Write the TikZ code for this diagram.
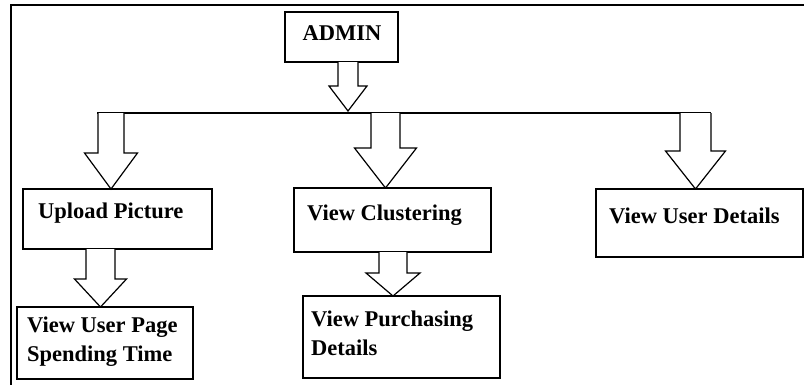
\documentclass[tikz,border=0pt]{standalone}
\usepackage{fontspec}
\setmainfont{Liberation Serif}
\usetikzlibrary{calc}
\newcommand{\blockarr}[5]{%
  \draw[arr] let \p1=(#1), \p2=(#2) in
    (\x1-#3pt,\y1) -- (\x1-#3pt,\y2+#5pt) -- (\x1-#4pt,\y2+#5pt) -- (\x1,\y2)
    -- (\x1+#4pt,\y2+#5pt) -- (\x1+#3pt,\y2+#5pt) -- (\x1+#3pt,\y1);}
\begin{document}
\begin{tikzpicture}[x=1pt,y=-1pt,
  box/.style={draw, line width=1.3pt, inner sep=0pt, outer sep=0pt, anchor=north west, fill=white},
  txt/.style={font=\fontsize{22.5}{29}\selectfont\bfseries, inner sep=0pt, anchor=west, align=left},
  arr/.style={draw, line width=1.2pt, fill=white, line join=miter},
  frame/.style={line width=2pt}]
\path[use as bounding box, clip] (0,0) rectangle (804,384);
\fill[white] (0,0) rectangle (804,384);
% outer frame (cut off at right and bottom)
\coordinate (fTR) at (830,5);
\coordinate (fTL) at (11,5);
\coordinate (fBL) at (11,400);
\draw[frame] (fTR) -- (fTL) -- (fBL);
% boxes
\node[box, minimum width=113pt, minimum height=50pt] (admin) at (285,12) {};
\node[box, minimum width=189pt, minimum height=60pt] (upload) at (23,189) {};
\node[box, minimum width=197pt, minimum height=64pt] (cluster) at (294,188) {};
\node[box, minimum width=207pt, minimum height=68pt] (userdet) at (596,189) {};
\node[box, minimum width=176pt, minimum height=72pt] (userpage) at (17,307) {};
\node[box, minimum width=197pt, minimum height=82pt] (purch) at (303,296) {};
% texts
\node[txt, anchor=center] (adminT) at (342,33) {ADMIN};
\node[txt] (uploadT) at (38,213) {Upload Picture};
\node[txt] (clusterT) at (307,215) {View Clustering};
\node[txt] (userdetT) at (609,216) {View User Details};
\node[txt] (userpageT) at (27,342) {View User Page\\Spending Time};
\node[txt] (purchT) at (311,333) {View Purchasing\\Details};
% bus line
\coordinate (busL) at (97,113);
\coordinate (busR) at (711,113);
\coordinate (busA) at (348,111);
\coordinate (b1) at (111,113);
\coordinate (b2) at (385.5,113);
\coordinate (b3) at (695.5,113);
\draw[line width=1.2pt] (busL) -- (busR);
% block arrows
\blockarr{[xshift=6.5pt]admin.south}{busA}{10}{19}{25}
\blockarr{b1}{upload.north}{13}{26.5}{36}
\blockarr{b2}{cluster.north}{14.5}{31}{40}
\blockarr{b3}{userdet.north}{15.5}{30}{38}
\blockarr{[xshift=-17pt]upload.south}{userpage.north}{14.5}{26}{28}
\blockarr{[xshift=0.5pt]cluster.south}{purch.north}{14}{27}{23}
\end{tikzpicture}
\end{document}
